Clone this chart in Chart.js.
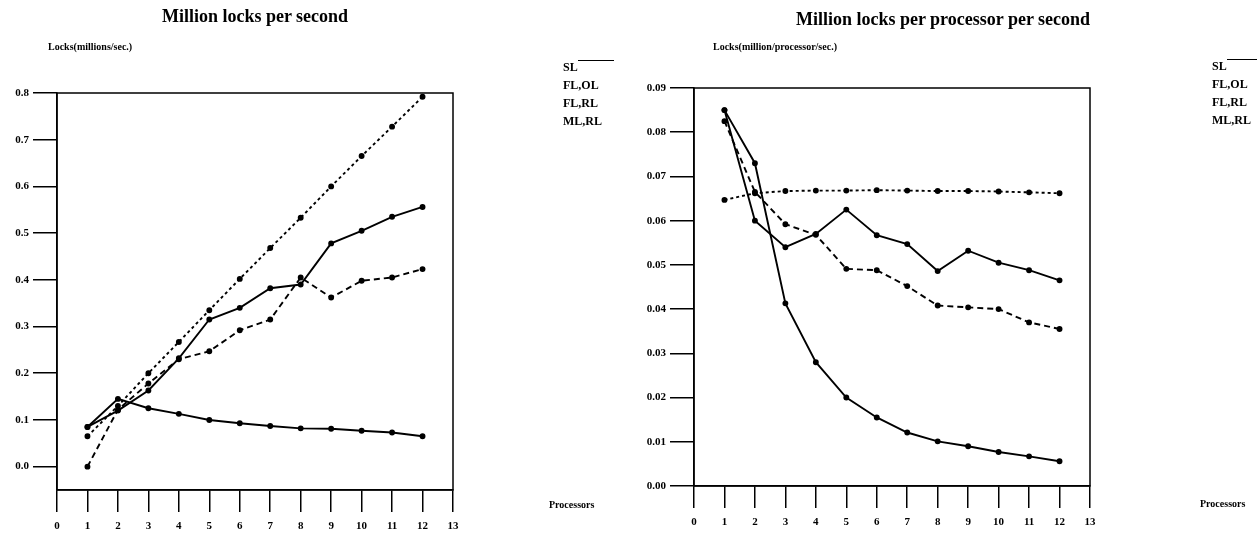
<!DOCTYPE html>
<html>
<head>
<meta charset="utf-8">
<script src="https://cdn.jsdelivr.net/npm/chart.js@4.4.0/dist/chart.umd.min.js"></script>
<style>
  body { margin: 0; background: #fff; width: 1257px; height: 534px; position: relative; overflow: hidden; font-family: "Liberation Serif", "DejaVu Serif", serif; color: #000; }
  .pane { position: absolute; top: 0; height: 534px; }
  .t { position: absolute; white-space: nowrap; }
  .title { font-size: 18px; font-weight: bold; transform: translateX(-50%); }
  .axt { font-size: 10px; font-weight: bold; }
  .leg { font-size: 12px; font-weight: bold; line-height: 18px; }
  .leg .sl { display: inline-block; width: 36px; border-top: 1.5px solid #000; vertical-align: top; margin-top: 2px; }
</style>
</head>
<body>
<div class="pane" style="left:0;width:628px"><canvas id="leftChart"></canvas></div>
<div class="pane" style="left:628px;width:629px"><canvas id="rightChart"></canvas></div>

<div class="t title" style="left:255px;top:6px">Million locks per second</div>
<div class="t title" style="left:943px;top:9px">Million locks per processor per second</div>
<div class="t axt" style="left:48px;top:41px">Locks(millions/sec.)</div>
<div class="t axt" style="left:713px;top:41px">Locks(million/processor/sec.)</div>
<div class="t axt" style="left:549px;top:499px">Processors</div>
<div class="t axt" style="left:1200px;top:498px">Processors</div>
<div class="t leg" style="left:563px;top:58px">SL<span class="sl"></span><br>FL,OL<br>FL,RL<br>ML,RL</div>
<div class="t leg" style="left:1212px;top:57px">SL<span class="sl"></span><br>FL,OL<br>FL,RL<br>ML,RL</div>

<script>
const processors = [1, 2, 3, 4, 5, 6, 7, 8, 9, 10, 11, 12];
const xTicks = [0, 1, 2, 3, 4, 5, 6, 7, 8, 9, 10, 11, 12, 13];

// left: million locks per second
const leftSL   = [0.085, 0.145, 0.125, 0.113, 0.100, 0.093, 0.087, 0.082, 0.081, 0.077, 0.073, 0.065];
const leftFLOL = [0.065, 0.130, 0.200, 0.267, 0.335, 0.402, 0.468, 0.533, 0.600, 0.665, 0.728, 0.792];
const leftFLRL = [0.000, 0.122, 0.178, 0.230, 0.247, 0.292, 0.315, 0.405, 0.362, 0.398, 0.405, 0.423];
const leftMLRL = [0.085, 0.120, 0.163, 0.232, 0.315, 0.340, 0.382, 0.390, 0.478, 0.505, 0.535, 0.556];
const leftYTicks = [0, 0.1, 0.2, 0.3, 0.4, 0.5, 0.6, 0.7, 0.8];

// right: million locks per processor per second
const rightSL   = [0.0850, 0.0730, 0.0413, 0.0280, 0.0200, 0.0155, 0.0121, 0.0101, 0.0090, 0.0077, 0.0067, 0.0056];
const rightFLOL = [0.0647, 0.0662, 0.0667, 0.0668, 0.0668, 0.0669, 0.0668, 0.0667, 0.0667, 0.0666, 0.0664, 0.0662];
const rightFLRL = [0.0825, 0.0665, 0.0592, 0.0568, 0.0491, 0.0488, 0.0452, 0.0408, 0.0404, 0.0400, 0.0370, 0.0355];
const rightMLRL = [0.0850, 0.0600, 0.0540, 0.0570, 0.0625, 0.0567, 0.0547, 0.0486, 0.0532, 0.0505, 0.0488, 0.0465];
const rightYTicks = [0, 0.01, 0.02, 0.03, 0.04, 0.05, 0.06, 0.07, 0.08, 0.09];

const tickFont = { family: '"Liberation Serif", serif', size: 11, weight: 'bold' };

function series(vals, dash) {
  return {
    data: processors.map((p, i) => ({ x: p, y: vals[i] })),
    borderColor: '#000',
    borderWidth: 1.9,
    borderDash: dash,
    pointRadius: 2,
    pointBackgroundColor: '#000',
    pointBorderColor: '#000',
    tension: 0
  };
}

// frame around the plot area
const frame = {
  id: 'frame',
  afterDraw(chart) {
    const a = chart.chartArea, ctx = chart.ctx;
    ctx.save();
    ctx.strokeStyle = '#000';
    ctx.lineWidth = 1.5;
    ctx.strokeRect(a.left, a.top, a.right - a.left, a.bottom - a.top);
    ctx.restore();
  }
};

function makeChart(id, sets, yTicks, yMin, yMax, digits, g) {
  return new Chart(document.getElementById(id).getContext('2d'), {
    type: 'line',
    data: { datasets: sets },
    options: {
      responsive: true,
      maintainAspectRatio: false,
      animation: false,
      layout: { padding: { top: g.top, right: g.right, left: 0, bottom: 0 } },
      plugins: { legend: { display: false }, tooltip: { enabled: false } },
      scales: {
        x: {
          type: 'linear', min: 0, max: 13,
          afterBuildTicks: s => { s.ticks = xTicks.map(v => ({ value: v })); },
          afterFit: s => { s.height = g.xh; },
          ticks: { autoSkip: false, maxRotation: 0, color: '#000', font: tickFont, padding: g.xpad },
          grid: { drawOnChartArea: false, drawTicks: true, tickLength: 22, color: '#000', lineWidth: 1.5 },
          border: { display: true, color: '#000', width: 1.5 }
        },
        y: {
          type: 'linear', min: yMin, max: yMax,
          afterBuildTicks: s => { s.ticks = yTicks.map(v => ({ value: v })); },
          afterFit: s => { s.width = g.yw; },
          ticks: { autoSkip: false, color: '#000', font: tickFont, padding: 4, callback: v => v.toFixed(digits) },
          grid: { drawOnChartArea: false, drawTicks: true, tickLength: 24, color: '#000', lineWidth: 1.5 },
          border: { display: true, color: '#000', width: 1.5 }
        }
      }
    },
    plugins: [frame]
  });
}

makeChart('leftChart', [
  series(leftSL, []),
  series(leftFLOL, [3, 3]),
  series(leftFLRL, [6, 4]),
  series(leftMLRL, [])
], leftYTicks, -0.05, 0.8, 1, { top: 93, right: 175, yw: 57, xh: 44, xpad: 8 });

makeChart('rightChart', [
  series(rightSL, []),
  series(rightFLOL, [3, 3]),
  series(rightFLRL, [6, 4]),
  series(rightMLRL, [])
], rightYTicks, 0, 0.09, 2, { top: 88, right: 167, yw: 66, xh: 48, xpad: 8 });
</script>
</body>
</html>
